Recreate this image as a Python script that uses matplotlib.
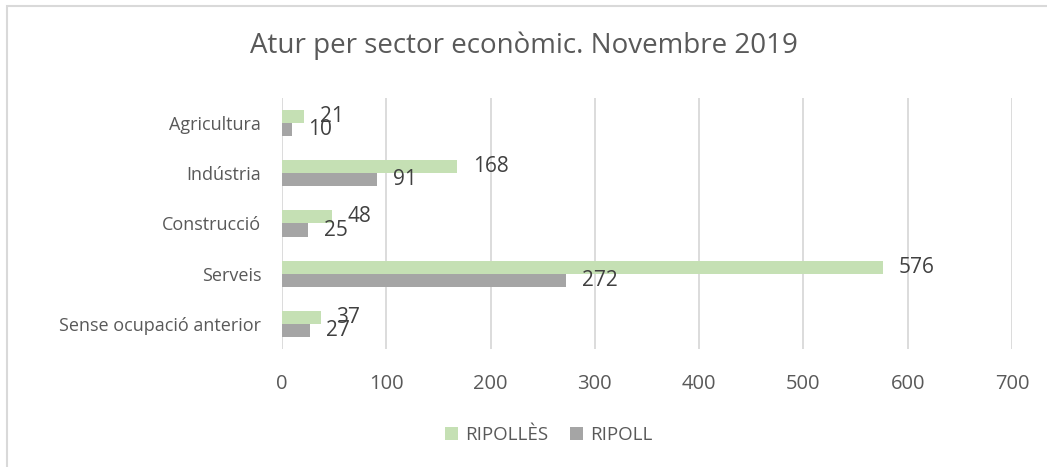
import matplotlib.pyplot as plt
from matplotlib.patches import Rectangle
import numpy as np

plt.rcParams['font.family'] = ['Open Sans', 'DejaVu Sans']

# data
categories = ['Agricultura', 'Indústria', 'Construcció', 'Serveis', 'Sense ocupació anterior']
ripolles = [21, 168, 48, 576, 37]
ripoll = [10, 91, 25, 272, 27]
series_names = ['RIPOLLÈS', 'RIPOLL']
xticks = [0, 100, 200, 300, 400, 500, 600, 700]

color_green = '#c5e0b4'
color_gray = '#a5a5a5'
text_color = '#595959'

fig = plt.figure(figsize=(10.47, 4.67), dpi=100)
ax = fig.add_axes([0.2693, 0.2527, 0.6973, 0.5375])

ind = np.arange(len(categories))
h = 0.26
b1 = ax.barh(ind - h / 2, ripolles, h, color=color_green, label=series_names[0])
b2 = ax.barh(ind + h / 2, ripoll, h, color=color_gray, label=series_names[1])
ax.bar_label(b1, padding=11.5, fontsize=15, color='#404040')
ax.bar_label(b2, padding=11.5, fontsize=15, color='#404040')

ax.set_xlim(0, 700)
ax.set_ylim(len(categories) - 0.5, -0.5)
ax.set_xticks(xticks)
ax.set_xticklabels([str(t) for t in xticks], fontsize=14.5, color=text_color)
ax.set_yticks(ind)
ax.set_yticklabels(categories, fontsize=13, color=text_color)
ax.tick_params(length=0)
ax.tick_params(axis='y', pad=15)
ax.tick_params(axis='x', pad=18)
ax.grid(axis='x', color='#d9d9d9', linewidth=1.3)
ax.set_axisbelow(True)
for s in ax.spines.values():
    s.set_visible(False)

fig.text(0.5, 0.903, 'Atur per sector econòmic. Novembre 2019', ha='center', va='center',
         fontsize=20, color=text_color)

fig.legend(loc='center', bbox_to_anchor=(0.524, 0.0685), ncol=2, frameon=False,
           fontsize=13.5, handlelength=0.7, handleheight=0.7, handletextpad=0.37,
           columnspacing=1.2, labelcolor=text_color)

# outer border (right and bottom edges fall outside the picture)
fig.patches.append(Rectangle((0.0067, -0.1), 1.2, 1.087, transform=fig.transFigure,
                             fill=False, edgecolor='#d9d9d9', linewidth=1.5))

plt.savefig('out.png', dpi=100)
